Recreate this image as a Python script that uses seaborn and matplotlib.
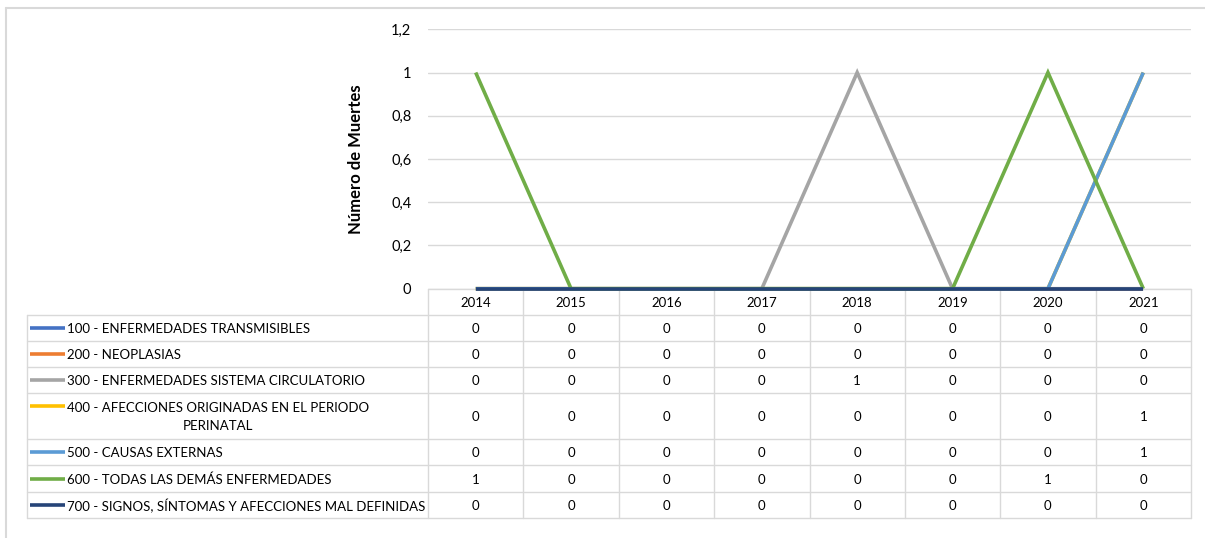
import matplotlib
matplotlib.use("Agg")
import matplotlib.pyplot as plt
import pandas as pd
import seaborn as sns

sns.set_theme(style="white")
plt.rcParams["font.family"] = ["Lato", "DejaVu Sans"]

# ---- data ----
years = [2014, 2015, 2016, 2017, 2018, 2019, 2020, 2021]
series_names = [
    "100 - ENFERMEDADES TRANSMISIBLES",
    "200 - NEOPLASIAS",
    "300 - ENFERMEDADES SISTEMA CIRCULATORIO",
    "400 - AFECCIONES ORIGINADAS EN EL PERIODO\nPERINATAL",
    "500 - CAUSAS EXTERNAS",
    "600 - TODAS LAS DEMÁS ENFERMEDADES",
    "700 - SIGNOS, SÍNTOMAS Y AFECCIONES MAL DEFINIDAS",
]
v100 = [0, 0, 0, 0, 0, 0, 0, 0]
v200 = [0, 0, 0, 0, 0, 0, 0, 0]
v300 = [0, 0, 0, 0, 1, 0, 0, 0]
v400 = [0, 0, 0, 0, 0, 0, 0, 1]
v500 = [0, 0, 0, 0, 0, 0, 0, 1]
v600 = [1, 0, 0, 0, 0, 0, 1, 0]
v700 = [0, 0, 0, 0, 0, 0, 0, 0]
series_values = [v100, v200, v300, v400, v500, v600, v700]
colors = ["#4472C4", "#ED7D31", "#A5A5A5", "#FFC000", "#5B9BD5", "#70AD47", "#264478"]
y_ticks = [0, 0.2, 0.4, 0.6, 0.8, 1.0, 1.2]
y_tick_labels = ["0", "0,2", "0,4", "0,6", "0,8", "1", "1,2"]
y_title = "Número de Muertes"

df = pd.DataFrame(
    [(name, yr, val) for name, vals in zip(series_names, series_values)
     for yr, val in zip(years, vals)],
    columns=["serie", "anio", "valor"],
)

# ---- layout (pixels) ----
W, H = 1205, 538
plot_left, plot_right = 428, 1191
plot_top, plot_bottom = 29.3, 288.7
row_edges = [315, 341, 367, 393, 439, 465, 492, 518]
label_left = 27
grid_c = "#D9D9D9"
txt_c = "#000000"

fig = plt.figure(figsize=(W / 100, H / 100), dpi=100)
fig.patch.set_facecolor("white")

ax = fig.add_axes([plot_left / W, 1 - plot_bottom / H,
                   (plot_right - plot_left) / W, (plot_bottom - plot_top) / H])
sns.lineplot(data=df, x="anio", y="valor", hue="serie", hue_order=series_names,
             palette=colors, linewidth=2.6, legend=False, ax=ax,
             estimator=None, sort=False)
for ln in ax.lines:
    ln.set_solid_capstyle("butt")
    ln.set_solid_joinstyle("miter")
    ln.set_clip_on(False)
ax.set_xlim(years[0] - 0.5, years[-1] + 0.5)
ax.set_ylim(0, 1.2)
ax.set_yticks(y_ticks)
ax.set_yticklabels(y_tick_labels, fontsize=10.5, color=txt_c)
ax.tick_params(axis="y", length=0, pad=12)
ax.set_xticks([])
ax.set_xlabel("")
ax.set_ylabel(y_title, fontsize=12, fontweight="bold", color=txt_c)
ax.yaxis.set_label_coords((364 - plot_left) / (plot_right - plot_left), 0.5)
ax.grid(axis="y", color=grid_c, linewidth=1)
ax.set_axisbelow(True)
for s in ax.spines.values():
    s.set_visible(False)
ax.patch.set_alpha(0)

# ---- data table and outer frame ----
tab = fig.add_axes([0, 0, 1, 1], zorder=-1)
tab.set_xlim(0, W)
tab.set_ylim(H, 0)
tab.axis("off")

tab.plot([6, W], [8, 8], color="#D9D9D9", lw=1.5)
tab.plot([6, 6], [8, H], color="#D9D9D9", lw=1.5)

col_w = (plot_right - plot_left) / len(years)
col_edges = [plot_left + i * col_w for i in range(len(years) + 1)]
col_centers = [plot_left + (i + 0.5) * col_w for i in range(len(years))]

tab.plot([plot_left, plot_right], [plot_bottom, plot_bottom], color=grid_c, lw=1)
for y in row_edges:
    tab.plot([label_left, plot_right], [y, y], color=grid_c, lw=1)
for x in col_edges:
    tab.plot([x, x], [plot_bottom, row_edges[-1]], color=grid_c, lw=1)
tab.plot([label_left, label_left], [row_edges[0], row_edges[-1]], color=grid_c, lw=1)

fs = 9.5
for yr, xc in zip(years, col_centers):
    tab.text(xc, (plot_bottom + row_edges[0]) / 2 + 1, str(yr), ha="center",
             va="center", fontsize=fs, color=txt_c)

for i, (name, vals, c) in enumerate(zip(series_names, series_values, colors)):
    y0, y1 = row_edges[i], row_edges[i + 1]
    yc = (y0 + y1) / 2 + 1
    two_lines = "\n" in name
    ky = y0 + 13 if two_lines else yc - 1
    tab.plot([30, 65], [ky, ky], color=c, lw=2.6, solid_capstyle="butt")
    tab.text(67, yc, name, ha="left", va="center", fontsize=fs, color=txt_c,
             multialignment="center", linespacing=1.65)
    for v, xc in zip(vals, col_centers):
        tab.text(xc, yc, f"{v:g}", ha="center", va="center", fontsize=fs,
                 color=txt_c)

fig.savefig("out.png", dpi=100, facecolor="white")
